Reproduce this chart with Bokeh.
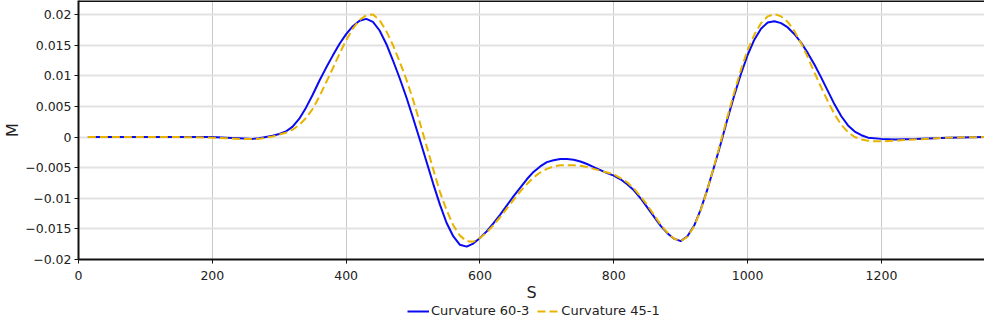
from bokeh.plotting import figure
from bokeh.layouts import column
from bokeh.models import (Range1d, FixedTicker, Legend, LegendItem, Span)
from bokeh.embed import file_html
from bokeh.resources import INLINE

# ---- data ----
s_blue = [14, 50, 100, 150, 200, 220, 240, 260, 270, 280, 290, 300, 310, 320, 330,
          340, 350, 360, 370, 380, 390, 400, 410, 420, 430, 440, 450, 460, 470, 480,
          490, 500, 510, 520, 530, 540, 550, 560, 570, 580, 590, 600, 610, 620, 630,
          640, 650, 660, 670, 680, 690, 700, 710, 720, 730, 740, 750, 760, 770, 780,
          790, 800, 810, 820, 830, 840, 850, 860, 870, 880, 890, 900, 910, 920, 930,
          940, 950, 960, 970, 980, 990, 1000, 1010, 1020, 1030, 1040, 1050, 1060, 1070,
          1080, 1090, 1100, 1110, 1120, 1130, 1140, 1150, 1160, 1170, 1180, 1200, 1220,
          1250, 1300, 1354]
m_blue = [0.0, 0.0, 0.0, 0.0, 0.0, -0.0001, -0.0002, -0.0003, -0.0002, 0.0, 0.0002,
          0.0005, 0.0009, 0.0017, 0.0030, 0.0048, 0.0069, 0.0092, 0.0113, 0.0133, 0.0152,
          0.0168, 0.0181, 0.0190, 0.0193, 0.0188, 0.0174, 0.0152, 0.0125, 0.0096, 0.0065,
          0.0031, -0.0004, -0.0040, -0.0076, -0.0110, -0.0140, -0.0162, -0.0176, -0.0179,
          -0.0174, -0.0165, -0.0154, -0.0141, -0.0127, -0.0112, -0.0097, -0.0083, -0.0069,
          -0.0057, -0.0048, -0.0041, -0.0038, -0.0036, -0.0036, -0.0037, -0.0040, -0.0044,
          -0.0049, -0.0054, -0.0059, -0.0063, -0.0069, -0.0077, -0.0087, -0.0100, -0.0115,
          -0.0130, -0.0145, -0.0157, -0.0166, -0.0170, -0.0162, -0.0145, -0.0118, -0.0085,
          -0.0048, -0.0010, 0.0030, 0.0068, 0.0103, 0.0134, 0.0159, 0.0177, 0.0187, 0.0189,
          0.0186, 0.0179, 0.0168, 0.0154, 0.0137, 0.0118, 0.0097, 0.0075, 0.0053, 0.0034,
          0.0019, 0.0009, 0.0003, -0.0001, -0.0003, -0.0004, -0.0003, -0.0001, 0.0]

s_orange = [14, 50, 100, 150, 200, 220, 240, 260, 270, 280, 290, 300, 310, 320, 330,
            340, 350, 360, 370, 380, 390, 400, 410, 420, 430, 440, 450, 460, 470, 480,
            490, 500, 510, 520, 530, 540, 550, 560, 570, 580, 590, 600, 610, 620, 630,
            640, 650, 660, 670, 680, 690, 700, 710, 720, 730, 740, 750, 760, 770, 780,
            790, 800, 810, 820, 830, 840, 850, 860, 870, 880, 890, 900, 910, 920, 930,
            940, 950, 960, 970, 980, 990, 1000, 1010, 1020, 1030, 1040, 1050, 1060, 1070,
            1080, 1090, 1100, 1110, 1120, 1130, 1140, 1150, 1160, 1170, 1180, 1190, 1200,
            1220, 1250, 1300, 1354]
m_orange = [0.0, 0.0, 0.0, 0.0, -0.0001, -0.0002, -0.0003, -0.0003, -0.0003, -0.0001,
            0.0001, 0.0004, 0.0007, 0.0012, 0.0020, 0.0031, 0.0046, 0.0066, 0.0089, 0.0112,
            0.0136, 0.0158, 0.0177, 0.0191, 0.0199, 0.0200, 0.0191, 0.0173, 0.0150, 0.0123,
            0.0094, 0.0061, 0.0024, -0.0014, -0.0052, -0.0089, -0.0119, -0.0144, -0.0161,
            -0.0170, -0.0171, -0.0165, -0.0156, -0.0144, -0.0131, -0.0117, -0.0103, -0.0089,
            -0.0077, -0.0066, -0.0058, -0.0052, -0.0048, -0.0046, -0.0046, -0.0046, -0.0047,
            -0.0049, -0.0052, -0.0055, -0.0058, -0.0061, -0.0067, -0.0074, -0.0084, -0.0097,
            -0.0111, -0.0127, -0.0143, -0.0156, -0.0166, -0.0170, -0.0163, -0.0146, -0.0119,
            -0.0085, -0.0047, -0.0007, 0.0034, 0.0073, 0.0110, 0.0142, 0.0167, 0.0186, 0.0197,
            0.0201, 0.0197, 0.0188, 0.0173, 0.0153, 0.0130, 0.0105, 0.0081, 0.0058, 0.0037,
            0.0020, 0.0008, 0.0000, -0.0004, -0.0006, -0.0007, -0.0007, -0.0006, -0.0004,
            -0.0001, 0.0]

series_names = ["Curvature 60-3", "Curvature 45-1"]
x_ticks = [0, 200, 400, 600, 800, 1000, 1200]
y_ticks = [-0.02, -0.015, -0.01, -0.005, 0, 0.005, 0.01, 0.015, 0.02]
y_tick_labels = ["\u22120.02", "\u22120.015", "\u22120.01", "\u22120.005", "0",
                 "0.005", "0.01", "0.015", "0.02"]

FONT = "DejaVu Sans"
BLUE = "#0a0af0"
GOLD = "#e8b400"


def js_key(v):
    if float(v).is_integer():
        return str(int(v))
    return repr(float(v))


p = figure(frame_width=906, frame_height=259, output_backend="svg", toolbar_location=None,
           x_range=Range1d(0, 1354), y_range=Range1d(-0.02, 0.0223),
           min_border_left=71, min_border_right=0, min_border_top=0,
           min_border_bottom=42, background_fill_color="white",
           border_fill_color="white", outline_line_color=None)

# grids
p.xgrid.ticker = FixedTicker(ticks=x_ticks)
p.ygrid.ticker = FixedTicker(ticks=y_ticks)
p.xgrid.grid_line_color = "#c9c9c9"
p.xgrid.grid_line_width = 1
p.ygrid.grid_line_color = "#e2e2e2"
p.ygrid.grid_line_width = 2

# axes
xa = p.xaxis[0]
xa.ticker = FixedTicker(ticks=x_ticks)
xa.axis_label = "S"
ya = p.yaxis[0]
ya.ticker = FixedTicker(ticks=y_ticks)
ya.major_label_overrides = {js_key(t): l for t, l in zip(y_ticks, y_tick_labels)}
ya.axis_label = "M"
for ax in (xa, ya):
    ax.axis_line_color = "#111111"
    ax.axis_line_width = 2
    ax.major_tick_line_color = "#111111"
    ax.major_tick_out = 4
    ax.major_tick_in = 0
    ax.minor_tick_line_color = None
    ax.major_label_text_font = FONT
    ax.major_label_text_font_size = "12.5px"
    ax.major_label_text_color = "#222222"
    ax.axis_label_text_font = FONT
    ax.axis_label_text_font_size = "16px"
    ax.axis_label_text_font_style = "normal"
    ax.axis_label_text_color = "#222222"
xa.major_label_standoff = 7
xa.axis_label_standoff = 0
ya.major_label_standoff = 3
ya.axis_label_standoff = 0

# top border line along the upper edge of the plotting area
top_line = Span(location=p.y_range.end, dimension="width",
                line_color="#111111", line_width=3)
p.add_layout(top_line)

r1 = p.line(s_blue, m_blue, line_color=BLUE, line_width=2)
r2 = p.line(s_orange, m_orange, line_color=GOLD, line_width=2, line_dash="8 4")

# legend strip below the chart (its lines lie outside its ranges; only the key shows)
lg = figure(width=906, height=14, output_backend="svg", toolbar_location=None,
            x_axis_type=None, y_axis_type=None,
            x_range=Range1d(-3, -2), y_range=Range1d(-3, -2),
            min_border_left=0, min_border_right=0, min_border_top=0,
            min_border_bottom=0, outline_line_color=None,
            background_fill_color="white", border_fill_color="white")
lg.grid.visible = False
k1 = lg.line(s_blue, m_blue, line_color=BLUE, line_width=2)
k2 = lg.line(s_orange, m_orange, line_color=GOLD, line_width=2, line_dash="8 4")
legend = Legend(items=[LegendItem(label=series_names[0], renderers=[k1]),
                       LegendItem(label=series_names[1], renderers=[k2])],
                orientation="horizontal", location=(329, 0),
                label_text_font=FONT, label_text_font_size="13px",
                label_text_color="#222222", glyph_width=22, glyph_height=14,
                label_standoff=2, spacing=8, padding=0, margin=0,
                border_line_color=None, background_fill_alpha=0,
                label_height=14)
lg.add_layout(legend)

layout = column(p, lg, spacing=0)
open("out.html", "w").write(file_html(layout, INLINE))
